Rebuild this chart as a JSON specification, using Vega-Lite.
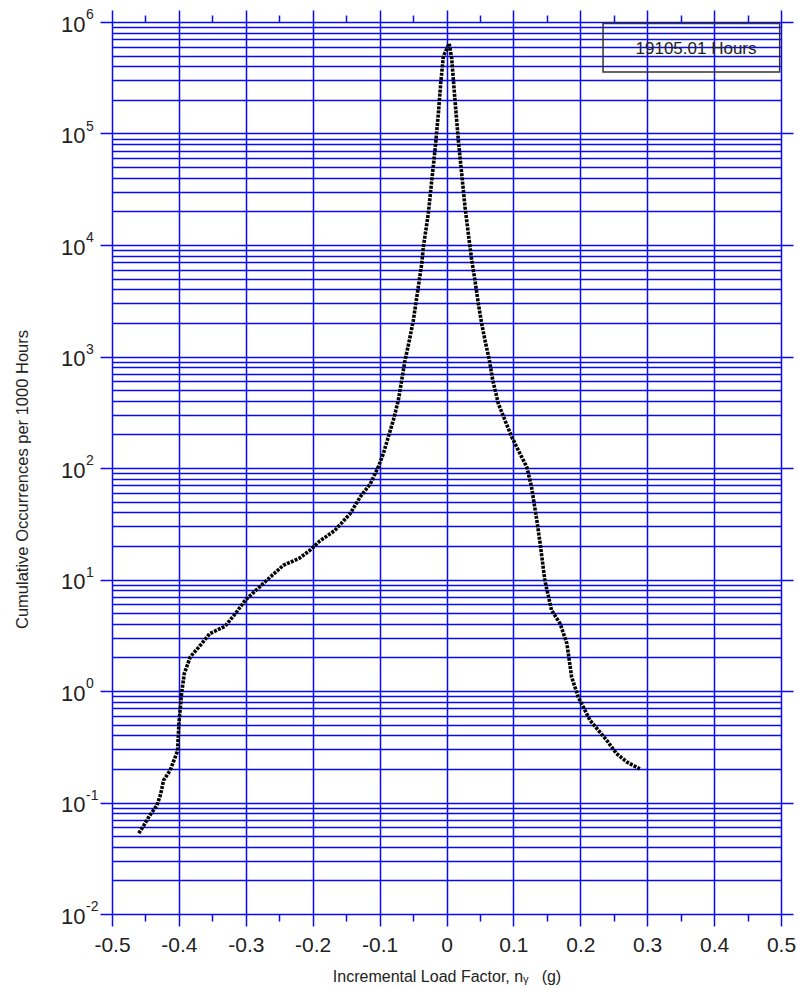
{
  "$schema": "https://vega.github.io/schema/vega-lite/v6.json",
  "width": 669,
  "height": 892,
  "autosize": "none",
  "padding": {"left": 112, "top": 22, "right": 17, "bottom": 74},
  "background": "white",
  "config": {
    "view": {"stroke": null},
    "font": "Liberation Sans",
    "axis": {"domain": false, "labelFont": "Liberation Sans", "titleFont": "Liberation Sans", "labelColor": "#222", "titleColor": "#222", "titleFontWeight": "normal", "tickColor": "#0a0af0", "gridColor": "#0a0af0", "gridWidth": 1.5, "tickWidth": 1.5}
  },
  "datasets": {
    "curve": [
      {"n": -0.460, "occ": 0.053}, {"n": -0.452, "occ": 0.063}, {"n": -0.444, "occ": 0.076}, {"n": -0.433, "occ": 0.094},
      {"n": -0.428, "occ": 0.115}, {"n": -0.426, "occ": 0.129}, {"n": -0.423, "occ": 0.158}, {"n": -0.413, "occ": 0.195},
      {"n": -0.402, "occ": 0.29}, {"n": -0.400, "occ": 0.51}, {"n": -0.396, "occ": 0.95}, {"n": -0.392, "occ": 1.43},
      {"n": -0.383, "occ": 2.02}, {"n": -0.368, "occ": 2.57}, {"n": -0.354, "occ": 3.27}, {"n": -0.331, "occ": 3.8},
      {"n": -0.315, "occ": 5.0}, {"n": -0.301, "occ": 6.5}, {"n": -0.269, "occ": 9.8}, {"n": -0.244, "occ": 13.4},
      {"n": -0.220, "occ": 15.5}, {"n": -0.204, "occ": 18.3}, {"n": -0.190, "occ": 22}, {"n": -0.167, "occ": 27.5},
      {"n": -0.144, "occ": 39}, {"n": -0.129, "occ": 55}, {"n": -0.114, "occ": 72}, {"n": -0.102, "occ": 102},
      {"n": -0.0945, "occ": 134}, {"n": -0.087, "occ": 190}, {"n": -0.0795, "occ": 268}, {"n": -0.072, "occ": 405},
      {"n": -0.067, "occ": 610}, {"n": -0.062, "occ": 925}, {"n": -0.056, "occ": 1350}, {"n": -0.0496, "occ": 2110},
      {"n": -0.0407, "occ": 4820}, {"n": -0.037, "occ": 6800}, {"n": -0.0346, "occ": 9600}, {"n": -0.0272, "occ": 19100},
      {"n": -0.022, "occ": 38000}, {"n": -0.0172, "occ": 70700}, {"n": -0.0122, "occ": 150000}, {"n": -0.0087, "occ": 280000},
      {"n": -0.0048, "occ": 485000}, {"n": -0.003, "occ": 520000}, {"n": 0.004, "occ": 640000}, {"n": 0.0078, "occ": 470000},
      {"n": 0.0127, "occ": 198000}, {"n": 0.0177, "occ": 87000}, {"n": 0.0227, "occ": 43600}, {"n": 0.0277, "occ": 21900},
      {"n": 0.0326, "occ": 12650}, {"n": 0.0377, "occ": 7300}, {"n": 0.0426, "occ": 4800}, {"n": 0.0476, "occ": 2980},
      {"n": 0.0526, "occ": 1970}, {"n": 0.0575, "occ": 1400}, {"n": 0.064, "occ": 930}, {"n": 0.069, "occ": 618},
      {"n": 0.0775, "occ": 378}, {"n": 0.0874, "occ": 268}, {"n": 0.0975, "occ": 190}, {"n": 0.11, "occ": 134},
      {"n": 0.12, "occ": 102}, {"n": 0.127, "occ": 68}, {"n": 0.135, "occ": 34}, {"n": 0.14, "occ": 21},
      {"n": 0.147, "occ": 9.8}, {"n": 0.157, "occ": 5.3}, {"n": 0.17, "occ": 4.0}, {"n": 0.18, "occ": 2.66},
      {"n": 0.187, "occ": 1.34}, {"n": 0.197, "occ": 0.88}, {"n": 0.2145, "occ": 0.546}, {"n": 0.2395, "occ": 0.361},
      {"n": 0.254, "occ": 0.275}, {"n": 0.27, "occ": 0.23}, {"n": 0.289, "occ": 0.2}
    ],
    "box": [{"x1": 0.234, "x2": 0.498, "y1": 968000, "y2": 356000, "label": "19105.01 Hours", "xc": 0.373, "yc": 569000}],
    "exps": [
      {"edge": -0.5, "v": 1000000, "e": "6"}, {"edge": -0.5, "v": 100000, "e": "5"}, {"edge": -0.5, "v": 10000, "e": "4"},
      {"edge": -0.5, "v": 1000, "e": "3"}, {"edge": -0.5, "v": 100, "e": "2"}, {"edge": -0.5, "v": 10, "e": "1"},
      {"edge": -0.5, "v": 1, "e": "0"}, {"edge": -0.5, "v": 0.1, "e": "-1"}, {"edge": -0.5, "v": 0.01, "e": "-2"}
    ]
  },
  "resolve": {"axis": {"x": "independent", "y": "independent"}},
  "layer": [
    {
      "data": {"name": "curve"},
      "mark": {"type": "line", "color": "black", "strokeWidth": 3.6, "strokeDash": [3, 1.2]},
      "encoding": {
        "x": {
          "field": "n", "type": "quantitative",
          "scale": {"domain": [-0.5, 0.5], "nice": false, "zero": false},
          "axis": {
            "orient": "bottom",
            "values": [-0.5, -0.45, -0.4, -0.35, -0.3, -0.25, -0.2, -0.15, -0.1, -0.05, 0, 0.05, 0.1, 0.15, 0.2, 0.25, 0.3, 0.35, 0.4, 0.45, 0.5],
            "grid": true,
            "gridOpacity": {"condition": {"test": "abs(datum.value*10 - round(datum.value*10)) < 0.001", "value": 1}, "value": 0},
            "tickSize": {"condition": {"test": "abs(datum.value*10 - round(datum.value*10)) < 0.001", "value": 12}, "value": 7},
            "labelExpr": "abs(datum.value*10 - round(datum.value*10)) < 0.001 ? (datum.value < -0.001 ? '-' : '') + format(abs(datum.value), '.1~f') : ''",
            "labelFontSize": 21,
            "labelPadding": 8,
            "labelFlush": false,
            "labelOverlap": false,
            "title": "Incremental Load Factor, nᵧ\u00a0\u00a0\u00a0(g)",
            "titleFontSize": 16,
            "titleBaseline": "alphabetic",
            "titleY": 67
          }
        },
        "y": {
          "field": "occ", "type": "quantitative",
          "scale": {"type": "log", "domain": [0.01, 1000000], "nice": false},
          "axis": {
            "orient": "left",
            "values": [0.01,0.02,0.03,0.04,0.05,0.06,0.07,0.08,0.09,0.1,0.2,0.3,0.4,0.5,0.6,0.7,0.8,0.9,1,2,3,4,5,6,7,8,9,10,20,30,40,50,60,70,80,90,100,200,300,400,500,600,700,800,900,1000,2000,3000,4000,5000,6000,7000,8000,9000,10000,20000,30000,40000,50000,60000,70000,80000,90000,100000,200000,300000,400000,500000,600000,700000,800000,900000,1000000],
            "grid": true,
            "tickSize": {"condition": {"test": "abs(log(datum.value)/LN10 - round(log(datum.value)/LN10)) < 0.001", "value": 12}, "value": 0},
            "labelExpr": "abs(log(datum.value)/LN10 - round(log(datum.value)/LN10)) < 0.001 ? '10' : ''",
            "labelFontSize": 22,
            "labelPadding": 15,
            "labelOverlap": false,
            "labelFlush": false,
            "labelBaseline": "middle",
            "labelOffset": 2,
            "title": "Cumulative Occurrences per 1000 Hours",
            "titleFontSize": 16.5,
            "titleBaseline": "alphabetic",
            "titleX": -85,
            "titleY": 457
          }
        }
      }
    },
    {
      "data": {"name": "box"},
      "mark": {"type": "rect", "fill": null, "fillOpacity": 0, "stroke": "#333", "strokeWidth": 1.5},
      "encoding": {
        "x": {
          "field": "x1", "type": "quantitative",
          "axis": {
            "orient": "top",
            "values": [-0.5, -0.45, -0.4, -0.35, -0.3, -0.25, -0.2, -0.15, -0.1, -0.05, 0, 0.05, 0.1, 0.15, 0.2, 0.25, 0.3, 0.35, 0.4, 0.45, 0.5],
            "grid": false,
            "labels": false,
            "title": null,
            "tickSize": {"condition": {"test": "abs(datum.value*10 - round(datum.value*10)) < 0.001", "value": 12}, "value": 7}
          }
        },
        "x2": {"field": "x2"},
        "y": {
          "field": "y1", "type": "quantitative",
          "axis": {
            "orient": "right",
            "values": [0.01, 0.1, 1, 10, 100, 1000, 10000, 100000, 1000000],
            "grid": false,
            "labels": false,
            "title": null,
            "tickSize": 12
          }
        },
        "y2": {"field": "y2"}
      }
    },
    {
      "data": {"name": "box"},
      "mark": {"type": "text", "fontSize": 17, "color": "#222", "font": "Liberation Sans", "align": "center", "baseline": "middle"},
      "encoding": {
        "x": {"field": "xc", "type": "quantitative", "axis": null},
        "y": {"field": "yc", "type": "quantitative", "axis": null},
        "text": {"field": "label"}
      }
    },
    {
      "data": {"name": "exps"},
      "mark": {"type": "text", "fontSize": 14, "color": "#222", "font": "Liberation Sans", "align": "left", "baseline": "middle", "dx": -26, "dy": -7},
      "encoding": {
        "x": {"field": "edge", "type": "quantitative", "axis": null},
        "y": {"field": "v", "type": "quantitative", "axis": null},
        "text": {"field": "e"}
      }
    }
  ]
}
